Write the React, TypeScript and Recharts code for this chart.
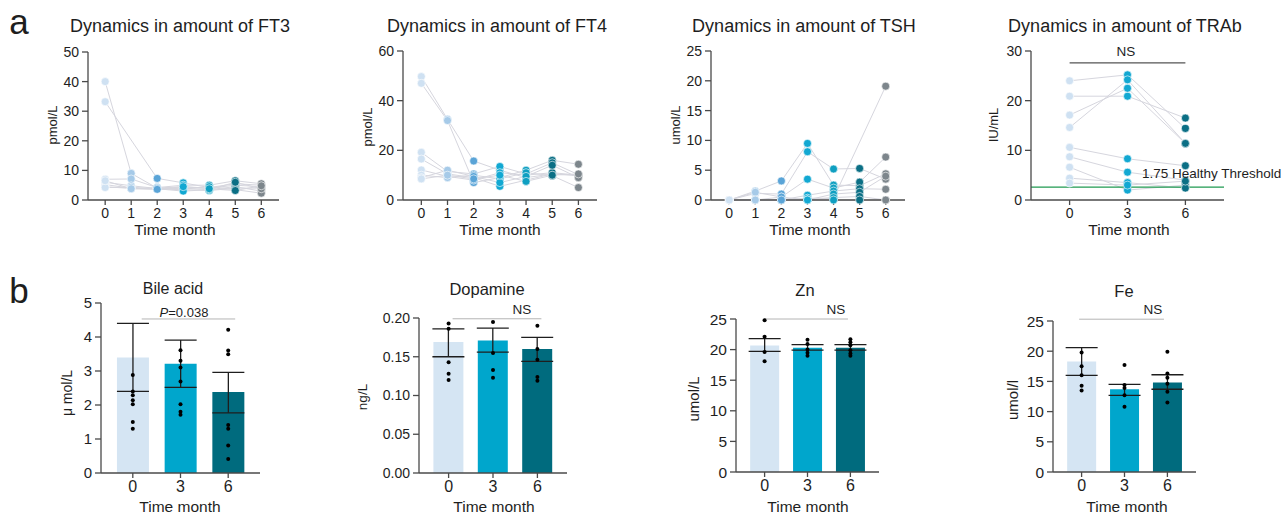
import React from "react";
import { Bar, Cell, ComposedChart, ErrorBar, Line, ReferenceLine, Scatter, XAxis, YAxis } from "recharts";

const FONT = '"Liberation Sans", Arial, Helvetica, sans-serif';
const AXIS = "#4a4a4a";
const INK = "#1e1e1e";

// ---- top row: one row per patient, values at month 0..6 ----
const months = [0, 1, 2, 3, 4, 5, 6];
const monthColors = ["#cfe1f2", "#a6cae8", "#5aa4d7", "#12a8d2", "#0f9fc1", "#0b6f85", "#7d868c"];

const ft3 = [
  [40, 9.0, 4.0, 4.5, 4.0, 5.0, 4.5],
  [33.2, null, 7.3, 5.8, 4.2, 5.5, 5.0],
  [7.0, 7.1, 4.2, 5.0, 5.0, 6.5, 5.5],
  [6.0, 4.8, 3.9, 4.0, 3.5, 4.5, 3.0],
  [5.2, 4.0, 3.7, 3.5, 3.2, 4.0, 4.0],
  [4.5, 3.9, 4.0, 3.8, 4.5, 3.5, 2.3],
  [4.2, 4.3, 3.8, 3.0, 3.5, 6.0, 3.8],
  [6.5, 3.8, 3.6, 4.5, 3.8, 3.2, 4.8],
];

const ft4 = [
  [49.7, 32.5, 15.7, 12, 9, 10.5, 10],
  [47, 32, 7, 9, 12, 16, 14.4],
  [19.2, 11.5, 10.5, 13.5, 10.5, 15, 10.2],
  [16.5, 10.5, 9, 5.5, 8, 10.5, 9.8],
  [12.1, 9.5, 8, 11, 10, 11, 10],
  [10, 9, 10, 8.5, 11, 9.8, 5],
  [9, 12, 9.5, 7, 9.5, 14, 9],
  [8.5, 10, 8.5, 10, 7.5, 10, 10.5],
];

const tsh = [
  [0, 1.5, 3.2, 9.5, 2.5, 2.4, 4.4],
  [0, 1.1, 1.0, 8.1, 5.2, 5.3, 3.5],
  [0, 0, 0.5, 3.5, 2.0, 3.0, 7.2],
  [0, 0, 0, 0.8, 1.5, 1.9, 1.8],
  [0, 0, 0, 0.3, 0.3, null, 19.1],
  [0, 0, 0, 0, 1.0, 1.3, 4.0],
  [0, 1.3, 0.5, 0, 0.4, 0.6, 0],
  [0, 0, 0, 0, 0, 0, 0],
];

const trabMonths = [0, 3, 6];
const trabColors = ["#cfe1f2", "#12a8d2", "#0b6f85"];
const trab = [
  [24.0, 25.2, 14.4],
  [20.9, 20.9, 16.5],
  [17.1, 22.5, 11.4],
  [14.6, 24.2, 11.4],
  [10.6, 8.3, 6.9],
  [8.7, 5.6, 4.0],
  [6.6, 2.0, 3.0],
  [4.4, 3.5, 2.4],
  [3.4, 3.0, 3.8],
];
const healthyThreshold = 2.6;

// ---- bottom row: mean with error range and single values at month 0, 3, 6 ----
const groups = [0, 3, 6];
const barColors = ["#d5e5f3", "#00a6cc", "#006b7e"];

const bileMean = [3.4, 3.21, 2.38];
const bileLow = [2.4, 2.52, 1.77];
const bileHigh = [4.4, 3.91, 2.96];
const bileDots = [
  [2.88, 2.4, 2.29, 2.14, 2.02, 1.5, 1.3],
  [3.61, 3.3, 3.1, 2.69, 2.02, 1.8, 1.71],
  [4.21, 3.6, 3.49, 1.41, 1.3, 0.81, 0.41],
];

const dopaMean = [0.169, 0.171, 0.16];
const dopaLow = [0.15, 0.156, 0.144];
const dopaHigh = [0.186, 0.187, 0.175];
const dopaDots = [
  [0.193, 0.186, 0.143, 0.128, 0.12],
  [0.195, 0.155, 0.133, 0.123],
  [0.19, 0.16, 0.146, 0.124, 0.119],
];

const znMean = [20.65, 20.3, 20.3];
const znLow = [19.7, 19.9, 19.9];
const znHigh = [21.8, 20.8, 20.8];
const znDots = [
  [24.8, 22.1, 19.6, 18.1],
  [21.6, 20.9, 20.0, 19.5, 19.0],
  [21.7, 21.2, 20.7, 19.9, 19.35, 19.0],
];

const feMean = [18.3, 13.7, 14.8];
const feLow = [16.0, 12.7, 13.7];
const feHigh = [20.6, 14.5, 16.1];
const feDots = [
  [19.8, 17.5, 16.0, 14.3, 13.5],
  [17.7, 14.4, 13.9, 12.7, 10.8],
  [19.9, 16.3, 15.6, 14.6, 13.3, 11.5],
];

type Rect = { l: number; t: number; r: number; b: number };

function Txt({ x, y, size, children, rot, anchor = "middle", style }: any) {
  const tx = anchor === "start" ? "0" : "-50%";
  return (
    <div
      style={{
        position: "absolute",
        left: x,
        top: y,
        transform: `translate(${tx},-50%)${rot ? " rotate(-90deg)" : ""}`,
        fontSize: size,
        lineHeight: 1,
        whiteSpace: "nowrap",
        fontFamily: FONT,
        color: INK,
        ...style,
      }}
    >
      {children}
    </div>
  );
}

function Frame({ plot, children }: { plot: Rect; children: (w: number, h: number) => React.ReactNode }) {
  const w = plot.r - plot.l + 60 + 10;
  const h = plot.b - plot.t + 10 + 30;
  return (
    <div style={{ position: "absolute", left: plot.l - 60, top: plot.t - 10, width: w, height: h }}>
      {children(w, h)}
    </div>
  );
}

function TimeCourse({
  plot, xs, colors, values, xDomain, yMax, yTicks, tickFont, extra,
}: any) {
  const rows = xs.map((m: number, i: number) => {
    const row: any = { t: m };
    values.forEach((p: (number | null)[], k: number) => (row["p" + k] = p[i]));
    return row;
  });
  const points: any[] = [];
  values.forEach((p: (number | null)[]) =>
    p.forEach((v, i) => {
      if (v !== null) points.push({ t: xs[i], v, c: colors[i] });
    })
  );
  return (
    <Frame plot={plot}>
      {(w, h) => (
        <ComposedChart width={w} height={h} data={rows} margin={{ top: 10, right: 10, bottom: 0, left: 0 }}>
          <XAxis
            dataKey="t"
            type="number"
            domain={xDomain}
            ticks={xs}
            interval={0}
            height={30}
            stroke={AXIS}
            strokeWidth={1.3}
            tickSize={5}
            tickMargin={3}
            tick={{ fill: INK, fontSize: tickFont, fontFamily: FONT }}
          />
          <YAxis
            type="number"
            domain={[0, yMax]}
            ticks={yTicks}
            width={60}
            stroke={AXIS}
            strokeWidth={1.3}
            tickSize={6}
            tickMargin={3}
            interval={0}
            tick={{ fill: INK, fontSize: tickFont, fontFamily: FONT }}
          />
          {values.map((_: any, k: number) => (
            <Line
              key={k}
              dataKey={"p" + k}
              type="linear"
              stroke="#d6d6de"
              strokeWidth={1}
              dot={false}
              activeDot={false}
              connectNulls
              isAnimationActive={false}
            />
          ))}
          {extra}
          <Scatter
            data={points}
            dataKey="v"
            isAnimationActive={false}
            shape={(p: any) => (
              <circle cx={p.cx} cy={p.cy} r={4} fill={p.payload.c} stroke="#ffffff" strokeWidth={0.6} />
            )}
          />
        </ComposedChart>
      )}
    </Frame>
  );
}

function BarPanel({
  plot, mean, low, high, dots, yMax, yTicks, barSize, tickFont, fmt, sig,
}: any) {
  const rows = groups.map((g, i) => ({ x: g, mean: mean[i], err: [mean[i] - low[i], high[i] - mean[i]] }));
  const points: any[] = [];
  dots.forEach((d: number[], i: number) => d.forEach((v) => points.push({ x: groups[i], v })));
  return (
    <Frame plot={plot}>
      {(w, h) => (
        <ComposedChart width={w} height={h} data={rows} margin={{ top: 10, right: 10, bottom: 0, left: 0 }}>
          <XAxis
            dataKey="x"
            type="number"
            domain={[-2, 8]}
            ticks={groups}
            interval={0}
            height={30}
            stroke={AXIS}
            strokeWidth={1.3}
            tickSize={5}
            tickMargin={3}
            tick={{ fill: INK, fontSize: 16, fontFamily: FONT }}
          />
          <YAxis
            type="number"
            domain={[0, yMax]}
            ticks={yTicks}
            width={60}
            stroke={AXIS}
            strokeWidth={1.3}
            tickSize={6}
            tickMargin={3}
            interval={0}
            tickFormatter={fmt}
            tick={{ fill: INK, fontSize: tickFont, fontFamily: FONT }}
          />
          <Bar dataKey="mean" barSize={barSize} isAnimationActive={false}>
            {rows.map((_, i) => (
              <Cell key={i} fill={barColors[i]} />
            ))}
            <ErrorBar dataKey="err" direction="y" width={16} stroke={INK} strokeWidth={1.3} />
          </Bar>
          <ReferenceLine
            segment={[{ x: sig[0], y: sig[2] }, { x: sig[1], y: sig[2] }]}
            stroke="#b4b4b4"
            strokeWidth={1}
            ifOverflow="visible"
          />
          <Scatter
            data={points}
            dataKey="v"
            isAnimationActive={false}
            shape={(p: any) => <circle cx={p.cx} cy={p.cy} r={2} fill="#000000" />}
          />
        </ComposedChart>
      )}
    </Frame>
  );
}

export default function App() {
  return (
    <div style={{ position: "absolute", left: 0, top: 0, width: 1284, height: 514, background: "#fff", overflow: "hidden" }}>
      <Txt x={19} y={21} size={35}>a</Txt>
      <Txt x={19} y={290} size={35}>b</Txt>

      {/* FT3 */}
      <Txt x={180} y={26} size={18}>Dynamics in amount of FT3</Txt>
      <Txt x={52} y={125} size={13} rot>pmol/L</Txt>
      <Txt x={175} y={230} size={15.5}>Time month</Txt>
      <TimeCourse
        plot={{ l: 88, t: 52, r: 279, b: 200 }}
        xs={months}
        colors={monthColors}
        values={ft3}
        xDomain={[-0.66, 6.68]}
        yMax={50}
        yTicks={[0, 10, 20, 30, 40, 50]}
        tickFont={14}
      />

      {/* FT4 */}
      <Txt x={497} y={26} size={18}>Dynamics in amount of FT4</Txt>
      <Txt x={367} y={127} size={13} rot>pmol/L</Txt>
      <Txt x={500} y={230} size={15.5}>Time month</Txt>
      <TimeCourse
        plot={{ l: 403, t: 51, r: 597, b: 200 }}
        xs={months}
        colors={monthColors}
        values={ft4}
        xDomain={[-0.7, 6.71]}
        yMax={60}
        yTicks={[0, 20, 40, 60]}
        tickFont={14}
      />

      {/* TSH */}
      <Txt x={804} y={26} size={18}>Dynamics in amount of TSH</Txt>
      <Txt x={675} y={125} size={13} rot>umol/L</Txt>
      <Txt x={810} y={230} size={15.5}>Time month</Txt>
      <TimeCourse
        plot={{ l: 711, t: 51, r: 905, b: 200 }}
        xs={months}
        colors={monthColors}
        values={tsh}
        xDomain={[-0.7, 6.74]}
        yMax={25}
        yTicks={[0, 5, 10, 15, 20, 25]}
        tickFont={14}
      />

      {/* TRAb */}
      <Txt x={1125} y={26} size={18}>Dynamics in amount of TRAb</Txt>
      <Txt x={993} y={125} size={13} rot>IU/mL</Txt>
      <Txt x={1129} y={230} size={15.5}>Time month</Txt>
      <TimeCourse
        plot={{ l: 1031, t: 51, r: 1224, b: 200 }}
        xs={trabMonths}
        colors={trabColors}
        values={trab}
        xDomain={[-2, 8]}
        yMax={30}
        yTicks={[0, 10, 20, 30]}
        tickFont={14}
        extra={[
          <ReferenceLine key="th" y={healthyThreshold} stroke="#1f9a50" strokeWidth={1.2} />,
          <ReferenceLine
            key="ns"
            segment={[{ x: 0, y: 27.6 }, { x: 6, y: 27.6 }]}
            stroke="#555"
            strokeWidth={1.4}
          />,
        ]}
      />
      <Txt x={1126} y={52} size={13.5}>NS</Txt>
      <Txt x={1142} y={174} size={13.5} anchor="start">1.75 Healthy Threshold</Txt>

      {/* Bile acid */}
      <Txt x={173} y={289} size={16}>Bile acid</Txt>
      <Txt x={67} y={393} size={14} rot>μ mol/L</Txt>
      <Txt x={180} y={507} size={15.5}>Time month</Txt>
      <Txt x={184} y={312} size={13}>
        <i>P</i>=0.038
      </Txt>
      <BarPanel
        plot={{ l: 101, t: 303, r: 260, b: 473 }}
        mean={bileMean}
        low={bileLow}
        high={bileHigh}
        dots={bileDots}
        yMax={5}
        yTicks={[0, 1, 2, 3, 4, 5]}
        barSize={32}
        tickFont={15}
        sig={[0.56, 6.44, 4.53]}
      />

      {/* Dopamine */}
      <Txt x={487} y={289} size={16.5}>Dopamine</Txt>
      <Txt x={363} y={397} size={13.5} rot>ng/L</Txt>
      <Txt x={494} y={507} size={15.5}>Time month</Txt>
      <Txt x={522} y={310} size={13.5}>NS</Txt>
      <BarPanel
        plot={{ l: 419, t: 318, r: 567, b: 473 }}
        mean={dopaMean}
        low={dopaLow}
        high={dopaHigh}
        dots={dopaDots}
        yMax={0.2}
        yTicks={[0, 0.05, 0.1, 0.15, 0.2]}
        barSize={30}
        tickFont={14}
        fmt={(v: number) => v.toFixed(2)}
        sig={[0.27, 6.27, 0.199]}
      />

      {/* Zn */}
      <Txt x={805} y={290} size={16.5}>Zn</Txt>
      <Txt x={693} y={399} size={15} rot>umol/L</Txt>
      <Txt x={808} y={507} size={15.5}>Time month</Txt>
      <Txt x={836} y={310} size={13.5}>NS</Txt>
      <BarPanel
        plot={{ l: 736, t: 319, r: 879, b: 472 }}
        mean={znMean}
        low={znLow}
        high={znHigh}
        dots={znDots}
        yMax={25}
        yTicks={[0, 5, 10, 15, 20, 25]}
        barSize={29}
        tickFont={15.5}
        sig={[-0.03, 5.83, 25]}
      />

      {/* Fe */}
      <Txt x={1124} y={291} size={16.5}>Fe</Txt>
      <Txt x={1012} y={400} size={15} rot>umol/l</Txt>
      <Txt x={1127} y={507} size={15.5}>Time month</Txt>
      <Txt x={1153} y={310} size={13.5}>NS</Txt>
      <BarPanel
        plot={{ l: 1053, t: 321, r: 1196, b: 472 }}
        mean={feMean}
        low={feLow}
        high={feHigh}
        dots={feDots}
        yMax={25}
        yTicks={[0, 5, 10, 15, 20, 25]}
        barSize={29}
        tickFont={15.5}
        sig={[-0.17, 5.76, 25.3]}
      />
    </div>
  );
}
